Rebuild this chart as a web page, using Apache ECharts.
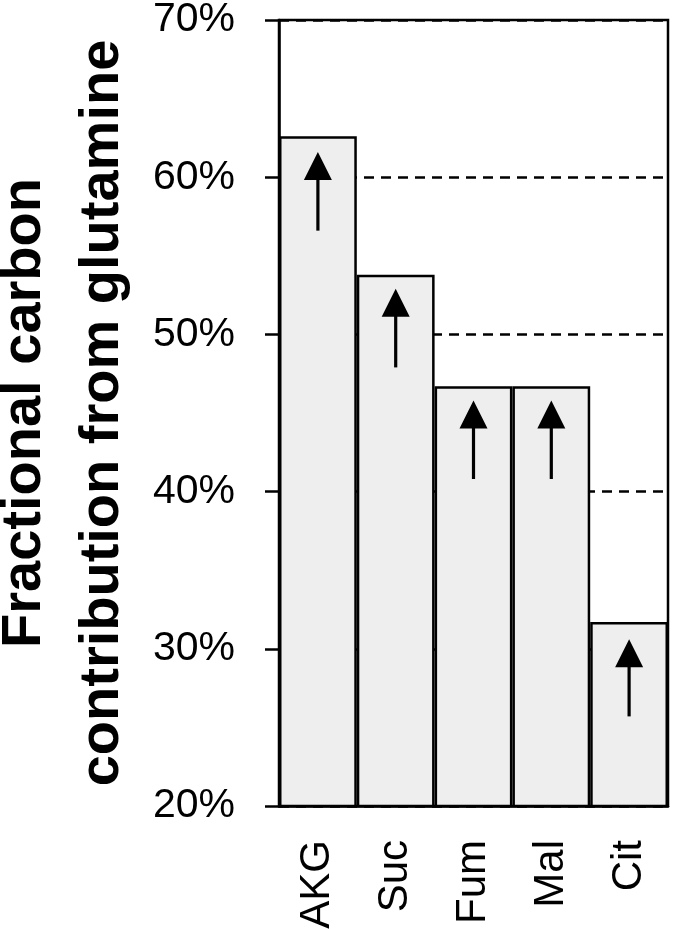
<!DOCTYPE html>
<html>
<head>
<meta charset="utf-8">
<script src="https://cdn.jsdelivr.net/npm/echarts@6/dist/echarts.min.js"></script>
<style>
  html, body { margin: 0; padding: 0; background: #fff; }
  #chart { width: 675px; height: 929px; }
</style>
</head>
<body>
<div id="chart"></div>
<script>
// metabolites and their glutamine-derived carbon fraction (%)
const categories = ['AKG', 'Suc', 'Fum', 'Mal', 'Cit']
const fractions = [62.6, 53.8, 46.7, 46.7, 31.7]
// up arrows drawn inside each bar (start -> tip, in %)
const arrowStart = [56.6, 47.9, 40.8, 40.8, 25.7]
const arrowTip = [61.6, 52.9, 45.8, 45.8, 30.6]
const yTicks = [20, 30, 40, 50, 60, 70]

const chart = echarts.init(document.getElementById('chart'))
const font = '"Liberation Sans", Arial, sans-serif'

function renderArrow(params, api) {
  const i = api.value(0)
  const p0 = api.coord([i, api.value(1)])
  const p1 = api.coord([i, api.value(2)])
  const headLen = 28
  const halfW = 14
  return {
    type: 'group',
    children: [
      {
        type: 'line',
        shape: { x1: p0[0], y1: p0[1], x2: p1[0], y2: p1[1] + headLen - 2 },
        style: { stroke: '#000', lineWidth: 3.2 },
      },
      {
        type: 'polygon',
        shape: { points: [[p1[0], p1[1]], [p1[0] - halfW, p1[1] + headLen], [p1[0] + halfW, p1[1] + headLen]] },
        style: { fill: '#000' },
      },
    ],
  }
}

chart.setOption({
  animation: false,
  grid: {
    left: 279, right: 7, top: 20, bottom: 123,
    outerBoundsMode: 'none',
    containLabel: false,
    show: true, borderColor: '#000', borderWidth: 2.5, backgroundColor: 'transparent',
  },
  xAxis: {
    type: 'category',
    data: categories,
    axisLine: { lineStyle: { color: '#000', width: 2.5 } },
    axisTick: { show: false },
    axisLabel: { rotate: 90, margin: 34, color: '#000', fontSize: 42, fontFamily: font },
  },
  yAxis: {
    type: 'value',
    min: yTicks[0],
    max: yTicks[yTicks.length - 1],
    interval: 10,
    name: 'Fractional carbon\ncontribution from glutamine',
    nameLocation: 'middle',
    nameRotate: 90,
    nameGap: 128,
    nameTextStyle: { color: '#000', fontSize: 56, fontWeight: 'bold', fontFamily: font, lineHeight: 78 },
    axisLine: { show: true, lineStyle: { color: '#000', width: 2.5 } },
    axisTick: { show: true, length: 14, lineStyle: { color: '#000', width: 2.5 } },
    axisLabel: { formatter: '{value}%', margin: 44, color: '#000', fontSize: 41, fontFamily: font },
    splitLine: { show: true, lineStyle: { color: '#000', width: 2.5, type: [10, 7] } },
  },
  series: [
    {
      type: 'bar',
      data: fractions,
      barCategoryGap: '0%',
      itemStyle: { color: '#eeeeee', borderColor: '#000', borderWidth: 2.5 },
      z: 2,
    },
    {
      type: 'custom',
      data: categories.map((c, i) => [i, arrowStart[i], arrowTip[i]]),
      renderItem: renderArrow,
      z: 3,
    },
  ],
})
</script>
</body>
</html>
